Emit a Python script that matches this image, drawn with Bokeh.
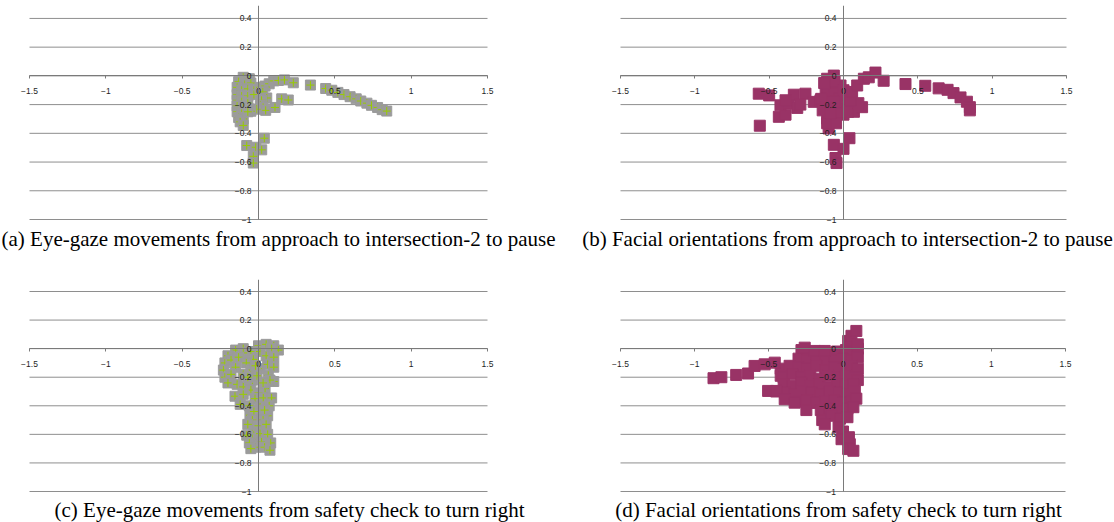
from bokeh.plotting import figure
from bokeh.layouts import column, row
from bokeh.models import FixedTicker, CustomJSTickFormatter, Div
from bokeh.embed import file_html
from bokeh.resources import INLINE

# ---------------- data ----------------
x_ticks = [-1.5, -1.0, -0.5, 0.0, 0.5, 1.0, 1.5]
y_ticks = [-1.0, -0.8, -0.6, -0.4, -0.2, 0.0, 0.2, 0.4]

captions = [
    "(a) Eye-gaze movements from approach to intersection-2 to pause",
    "(b) Facial orientations from approach to intersection-2 to pause",
    "(c) Eye-gaze movements from safety check to turn right",
    "(d) Facial orientations from safety check to turn right",
]

# (a) eye-gaze, approach -> intersection-2 -> pause
a_x = [-0.10, -0.06, -0.13, -0.09, -0.05, -0.14, -0.11, -0.07, -0.03, -0.14, -0.11, -0.07, -0.03,
       -0.14, -0.11, -0.07, -0.14, -0.10, -0.06, -0.14, -0.11, -0.13, -0.10, -0.12, -0.10,
       0.01, 0.043, 0.07, 0.028, 0.054, 0.02, 0.012, 0.03, 0.047, -0.012, -0.05, -0.07,
       0.108, 0.152, 0.195,
       0.10, 0.13, 0.17, 0.228, 0.34, 0.44, 0.48, 0.52, 0.56, 0.60, 0.64, 0.67, 0.71, 0.74, 0.78, 0.81, 0.84,
       0.038, -0.077, -0.018, 0.021, -0.034, -0.034]
a_y = [-0.01, -0.02, -0.04, -0.06, -0.05, -0.08, -0.10, -0.09, -0.10, -0.13, -0.14, -0.14, -0.13,
       -0.17, -0.18, -0.19, -0.21, -0.22, -0.23, -0.25, -0.26, -0.29, -0.30, -0.32, -0.345,
       -0.08, -0.071, -0.055, -0.112, -0.154, -0.17, -0.205, -0.22, -0.24, -0.232, -0.246, -0.25,
       -0.22, -0.16, -0.168,
       -0.035, -0.032, -0.028, -0.048, -0.064, -0.088, -0.10, -0.115, -0.13, -0.145, -0.16, -0.175, -0.19,
       -0.205, -0.22, -0.235, -0.245,
       -0.434, -0.485, -0.497, -0.515, -0.56, -0.607]

# (b) facial orientation, approach -> intersection-2 -> pause
b_x = [-0.57, -0.50, -0.563, -0.435, -0.39, -0.424, -0.368, -0.334, -0.311, -0.256, -0.2, -0.155,
       -0.29, -0.39,
       -0.11, -0.065, -0.12, -0.02, -0.08, -0.11, -0.06, -0.11, -0.042, 0.025, 0.08, 0.07, 0.0,
       -0.065, -0.11, -0.10, -0.11, -0.03, 0.03, 0.125,
       -0.06, -0.13, -0.15, -0.08, -0.03, 0.03, 0.10, -0.06, 0.0, -0.12,
       -0.05, -0.14, 0.05, -0.09,
       0.058, 0.092, 0.137, 0.17, 0.215, 0.27,
       0.417, 0.55, 0.64, 0.70, 0.74, 0.787, 0.83, 0.85, 0.85,
       0.04, -0.065, 0.0, -0.054, -0.047]
b_y = [-0.124, -0.136, -0.347, -0.285, -0.27, -0.205, -0.193, -0.131, -0.223, -0.124, -0.181, -0.17,
       -0.2, -0.17,
       -0.02, 0.002, -0.09, -0.067, -0.05, -0.13, -0.12, -0.18, -0.205, -0.205, -0.205, -0.25, -0.27,
       -0.297, -0.297, -0.366, -0.33, -0.16, -0.13, -0.218,
       -0.04, -0.05, -0.16, -0.24, -0.26, -0.25, -0.19, -0.18, -0.10, -0.22,
       -0.33, -0.24, -0.17, -0.26,
       -0.112, -0.067, -0.02, -0.01, 0.023, -0.034,
       -0.057, -0.069, -0.087, -0.097, -0.12, -0.15, -0.18, -0.218, -0.24,
       -0.434, -0.48, -0.508, -0.572, -0.607]

# (c) eye-gaze, safety check -> turn right
c_x = [-0.15, -0.10, -0.05, 0.0, 0.05, 0.10, 0.13, 0.086, 0.01, 0.05, 0.10,
       -0.20, -0.22, -0.23, -0.22, -0.18, -0.15, -0.18, -0.20, -0.14, -0.10, -0.13, -0.034,
       -0.08, -0.05, -0.10, 0.01, 0.06, 0.10, 0.064, 0.10, 0.075, -0.04, -0.10, 0.043,
       -0.02, -0.01, -0.07, 0.03, -0.05, 0.0,
       -0.154, -0.023, 0.031, 0.086, -0.10, -0.12, 0.01, -0.06, 0.07, -0.056, 0.02, 0.06,
       -0.03, 0.04, -0.04, 0.03, -0.03, 0.03, -0.04, 0.05,
       -0.07, 0.0, 0.05, -0.077, 0.01, 0.06, -0.06, 0.02, 0.08, -0.02, -0.05, 0.04, 0.075]
c_y = [-0.01, 0.0, -0.02, 0.02, 0.03, 0.02, -0.01, 0.0, -0.02, -0.05, -0.06,
       -0.05, -0.10, -0.15, -0.20, -0.08, -0.13, -0.18, -0.24, -0.25, -0.03, -0.06, -0.075,
       -0.10, -0.15, -0.18, -0.14, -0.11, -0.13, -0.187, -0.23, -0.22, -0.22, -0.268, -0.28,
       -0.12, -0.19, -0.20, -0.24, -0.29, -0.31,
       -0.333, -0.35, -0.345, -0.345, -0.32, -0.39, -0.408, -0.40, -0.40, -0.466, -0.478, -0.47,
       -0.44, -0.43, -0.50, -0.50, -0.57, -0.57, -0.63, -0.63,
       -0.53, -0.54, -0.53, -0.606, -0.595, -0.60, -0.66, -0.653, -0.66, -0.69, -0.70, -0.69, -0.711]

# (d) facial orientation, safety check -> turn right
d_x = [-0.28, -0.22, -0.16, -0.10, -0.04, 0.02, 0.08, 0.10,
       -0.30, -0.24, -0.18, -0.12, -0.06, 0.0, 0.06, 0.10,
       -0.42, -0.36, -0.30, -0.24, -0.18, -0.12, -0.06, 0.0, 0.06, 0.10,
       -0.42, -0.40, -0.34, -0.28, -0.22, -0.16, -0.10, -0.04, 0.02, 0.08, 0.10,
       -0.40, -0.34, -0.28, -0.22, -0.16, -0.10, -0.04, 0.02, 0.07,
       -0.45, -0.39, -0.33, -0.27, -0.21, -0.15, -0.09, -0.03, 0.03, 0.08,
       -0.30, -0.24, -0.18, -0.12, -0.06, 0.0, 0.06, 0.09,
       -0.15, -0.09, -0.03, 0.03, 0.07,
       -0.14, -0.08, -0.02, 0.03,
       -0.123, -0.03, 0.0, -0.01, 0.046, 0.035, 0.07, 0.04,
       0.035, 0.057, 0.09, 0.10,
       -0.258, -0.19, -0.123,
       -0.873, -0.82, -0.72, -0.64, -0.596, -0.528, -0.46, -0.505, -0.45, -0.393, -0.326, -0.247]
d_y = [-0.01, -0.03, -0.02, -0.03, -0.02, -0.01, -0.02, 0.0,
       -0.07, -0.08, -0.07, -0.09, -0.08, -0.07, -0.08, -0.06,
       -0.14, -0.12, -0.13, -0.14, -0.12, -0.15, -0.13, -0.14, -0.12, -0.14,
       -0.19, -0.20, -0.18, -0.20, -0.19, -0.21, -0.19, -0.20, -0.19, -0.20, -0.22,
       -0.25, -0.26, -0.24, -0.26, -0.25, -0.27, -0.25, -0.26, -0.25,
       -0.30, -0.31, -0.32, -0.30, -0.31, -0.32, -0.30, -0.31, -0.32, -0.30,
       -0.37, -0.36, -0.38, -0.37, -0.36, -0.38, -0.37, -0.35,
       -0.43, -0.42, -0.44, -0.42, -0.41,
       -0.50, -0.47, -0.49, -0.48,
       -0.53, -0.55, -0.58, -0.634, -0.669, -0.703, -0.715, -0.62,
       0.054, 0.09, 0.124, 0.03,
       0.007, -0.016, -0.016,
       -0.207, -0.20, -0.184, -0.174, -0.121, -0.11, -0.098, -0.296, -0.296, -0.354, -0.378, -0.43]

GRAY = "#9b9b9b"
GREEN = "#99cc00"
PLUM = "#993366"
GRID = "#8e8e8e"
AXIS = "#7a7a7a"

tick_fmt = """
const v = Math.round(tick * 10) / 10;
return v.toString().replace('-', '\\u2212');
"""

PAD = 14  # px of frame beyond the +-1.5 span so edge tick labels are not clipped


def make_panel(left, inner_w, right, top, inner_h, y_top):
    fw = inner_w + 2 * PAD
    xpad = PAD * (x_ticks[-1] - x_ticks[0]) / inner_w
    ppu = inner_h / (y_top - y_ticks[0])
    ybot = y_ticks[0] - 7.0 / ppu
    p = figure(frame_width=fw, frame_height=inner_h + 7,
               x_range=(x_ticks[0] - xpad, x_ticks[-1] + xpad), y_range=(ybot, y_top),
               output_backend="svg", toolbar_location=None, title_location=None,
               min_border_left=left - PAD, min_border_right=right - PAD,
               min_border_top=top, min_border_bottom=0)
    p.outline_line_color = None
    p.background_fill_color = "white"
    p.border_fill_color = "white"
    p.xgrid.visible = False
    p.ygrid.visible = False

    n = len(y_ticks)
    p.segment(x0=[x_ticks[0]] * n, x1=[x_ticks[-1]] * n, y0=y_ticks, y1=y_ticks,
              line_color=GRID, line_width=1)

    p.xaxis.ticker = FixedTicker(ticks=x_ticks)
    p.yaxis.ticker = FixedTicker(ticks=y_ticks)
    p.xaxis.bounds = (x_ticks[0], x_ticks[-1])
    p.yaxis.bounds = (y_ticks[0], y_top)
    for ax in (p.xaxis[0], p.yaxis[0]):
        ax.fixed_location = 0
        ax.formatter = CustomJSTickFormatter(code=tick_fmt)
        ax.axis_line_color = AXIS
        ax.axis_line_width = 1
        ax.major_tick_line_color = AXIS
        ax.minor_tick_line_color = None
        ax.major_tick_in = 0
        ax.major_label_text_font = "Liberation Sans"
        ax.major_label_text_font_size = "8.5px"
        ax.major_label_text_color = "#1e1e1e"
    p.xaxis.major_tick_out = 3
    p.xaxis.major_label_standoff = 9
    p.yaxis.major_tick_out = 0
    p.yaxis.major_label_standoff = 7
    return p


def gaze_points(p, xs, ys):
    for x, y in zip(xs, ys):
        p.scatter([x], [y], marker="square", size=10, fill_color=GRAY, line_color=GRAY)
        p.scatter([x], [y], marker="cross", size=8, line_color=GREEN, line_width=1)


def face_points(p, xs, ys):
    p.scatter(xs, ys, marker="square", size=11, fill_color=PLUM, line_color=PLUM)


def caption_div(text, width, height, dx, dy):
    html = ('<div style="position:relative;left:%dpx;top:%dpx;width:%dpx;text-align:center;'
            'font-family:\'Liberation Serif\',serif;font-size:21px;line-height:24px;'
            'white-space:nowrap;color:#000;">%s</div>' % (dx, dy, width, text))
    return Div(text=html, width=width, height=height, margin=0)


# row 1: frames (plot span) x 29..487 and 620..1066, y 0.4 at 18, -1 at 219
pa = make_panel(29, 458, 557 - 487, 5, 214, 0.49)
gaze_points(pa, a_x, a_y)
pb = make_panel(620 - 557, 446, 1114 - 1066, 5, 214, 0.49)
face_points(pb, b_x, b_y)

# row 2: y 0.4 at 291, -1 at 491
pc = make_panel(29, 458, 557 - 487, 18, 212, 0.484)
gaze_points(pc, c_x, c_y)
pd = make_panel(620 - 557, 445, 1114 - 1065, 18, 212, 0.484)
face_points(pd, d_x, d_y)

h1 = pa.frame_height + 5
h2 = pc.frame_height + 18
da = caption_div(captions[0], 557, 261 - h1, 0, 1)
db = caption_div(captions[1], 557, 261 - h1, 12, 1)
dc = caption_div(captions[2], 557, 261 - h2, 11, 0)
dd = caption_div(captions[3], 557, 261 - h2, 3, 0)

layout = column(row(pa, pb, spacing=0), row(da, db, spacing=0),
                row(pc, pd, spacing=0), row(dc, dd, spacing=0), spacing=0)

open("out.html", "w").write(file_html(layout, INLINE))
